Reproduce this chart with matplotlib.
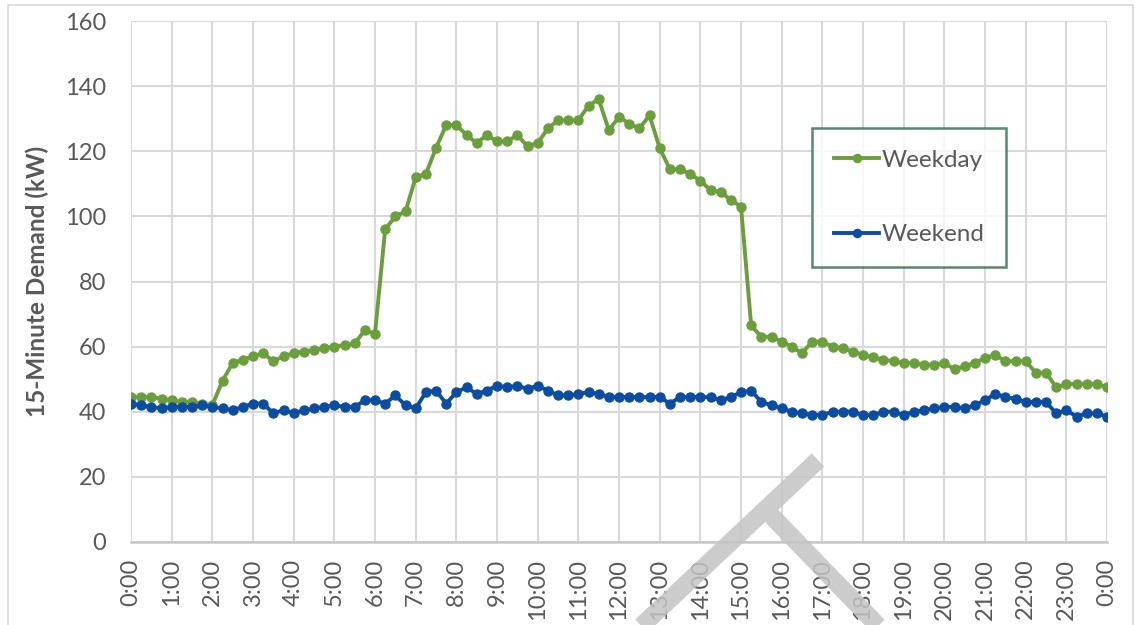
import numpy as np
import matplotlib
matplotlib.use("Agg")
import matplotlib.pyplot as plt
from matplotlib.lines import Line2D
from matplotlib.patches import Rectangle

plt.rcParams['font.family'] = ['Lato', 'DejaVu Sans']

# 15-minute demand profile, midnight to midnight (97 readings)
hours = np.arange(97) * 0.25

weekday_kw = [
    44.5, 44.5, 44.5, 44.0, 43.5, 43.0, 43.0, 42.5,
    42.0, 49.5, 55.0, 56.0, 57.0, 58.0, 55.5, 57.0,
    58.0, 58.5, 59.0, 59.5, 60.0, 60.5, 61.0, 65.0,
    64.0, 96.0, 100.0, 101.5, 112.0, 113.0, 121.0, 128.0,
    128.0, 125.0, 122.5, 125.0, 123.0, 123.0, 125.0, 121.5,
    122.5, 127.0, 129.5, 129.5, 129.5, 134.0, 136.0, 126.5,
    130.5, 128.5, 127.0, 131.0, 121.0, 114.5, 114.5, 113.0,
    111.0, 108.0, 107.5, 105.0, 103.0, 66.5, 63.0, 63.0,
    61.5, 60.0, 58.0, 61.5, 61.5, 60.0, 59.5, 58.5,
    57.5, 56.8, 56.0, 55.5, 55.0, 55.0, 54.5, 54.5,
    55.0, 53.0, 54.0, 55.0, 56.5, 57.5, 55.5, 55.5,
    55.5, 52.0, 52.0, 47.5, 48.5, 48.5, 48.5, 48.5,
    47.5,
]

weekend_kw = [
    42.5, 42.0, 41.5, 41.0, 41.5, 41.5, 41.5, 42.0,
    41.5, 41.0, 40.5, 41.5, 42.5, 42.5, 39.5, 40.5,
    39.5, 40.5, 41.0, 41.5, 42.0, 41.5, 41.5, 43.5,
    43.5, 42.5, 45.0, 42.0, 41.0, 46.0, 46.5, 42.5,
    46.0, 47.5, 45.5, 46.5, 48.0, 47.5, 48.0, 47.0,
    48.0, 46.5, 45.0, 45.0, 45.5, 46.0, 45.5, 44.5,
    44.5, 44.5, 44.5, 44.5, 44.5, 42.5, 44.5, 44.5,
    44.5, 44.5, 43.5, 44.5, 46.0, 46.5, 43.0, 42.0,
    41.0, 40.0, 39.5, 39.0, 39.0, 40.0, 40.0, 40.0,
    39.0, 39.0, 40.0, 40.0, 39.0, 40.0, 40.5, 41.0,
    41.5, 41.5, 41.0, 42.0, 43.5, 45.5, 44.5, 44.0,
    43.0, 43.0, 43.0, 39.5, 40.5, 38.5, 39.5, 39.5,
    38.5,
]

hour_ticks = list(range(25))
hour_labels = [
    "0:00", "1:00", "2:00", "3:00", "4:00", "5:00", "6:00", "7:00",
    "8:00", "9:00", "10:00", "11:00", "12:00", "13:00", "14:00", "15:00",
    "16:00", "17:00", "18:00", "19:00", "20:00", "21:00", "22:00", "23:00",
    "0:00",
]
demand_ticks = [0, 20, 40, 60, 80, 100, 120, 140, 160]

GREEN = "#6a9f3c"
BLUE = "#0c4da2"
TEXT = "#595959"
GRID = "#d9d9d9"

W, H = 1137, 625
fig = plt.figure(figsize=(W / 100, H / 100), dpi=100)
ax = fig.add_axes([131 / W, 1 - 542 / H, (1107 - 131) / W, (542 - 21) / H])

ax.plot(hours, weekday_kw, color=GREEN, lw=2.8, marker="o", ms=6.5,
        label="Weekday", zorder=3)
ax.plot(hours, weekend_kw, color=BLUE, lw=2.8, marker="o", ms=6.5,
        label="Weekend", zorder=3)

ax.set_xlim(0, 24)
ax.set_ylim(0, 160)
ax.set_xticks(hour_ticks)
ax.set_xticklabels(hour_labels, rotation=90)
ax.set_yticks(demand_ticks)

ax.grid(True, color=GRID, lw=1.5)
ax.set_axisbelow(True)
for side in ("top", "right", "left"):
    ax.spines[side].set_visible(False)
ax.spines["bottom"].set_color("#c8c8c8")
ax.spines["bottom"].set_linewidth(1.8)

ax.tick_params(axis="both", length=0, labelsize=17, labelcolor=TEXT)
ax.tick_params(axis="y", pad=18)
ax.tick_params(axis="x", pad=12)

ax.set_ylabel("15-Minute Demand (kW)", fontsize=17.5, fontweight="bold",
              color=TEXT)
ax.yaxis.set_label_coords(-0.084, 0.5)

leg = ax.legend(loc="upper left", bbox_to_anchor=(0.698, 0.795),
                borderaxespad=0, frameon=True, fancybox=False,
                fontsize=17.5, labelcolor=TEXT, handlelength=1.85,
                handletextpad=0.1, labelspacing=2.2, borderpad=0.9,
                markerscale=0.9)
leg.get_frame().set_edgecolor("#2e6b4e")
leg.get_frame().set_linewidth(1.8)

# light outer frame
fig.add_artist(Rectangle((8 / W, -0.02), (1133 - 8) / W, 1 - 5 / H + 0.02,
                         transform=fig.transFigure, fill=False,
                         edgecolor="#d9d9d9", lw=1.2))

# faint diagonal stamp, both strokes in one path so the overlap stays even
sx = [635 / W, 818 / W, np.nan, 762 / W, 884 / W]
sy = [1 - 632 / H, 1 - 460 / H, np.nan, 1 - 506 / H, 1 - 632 / H]
fig.add_artist(Line2D(sx, sy, color="#c4c4c4", alpha=0.85, lw=13,
                      solid_capstyle="butt", transform=fig.transFigure,
                      zorder=10))

fig.savefig("out.png", dpi=100)
